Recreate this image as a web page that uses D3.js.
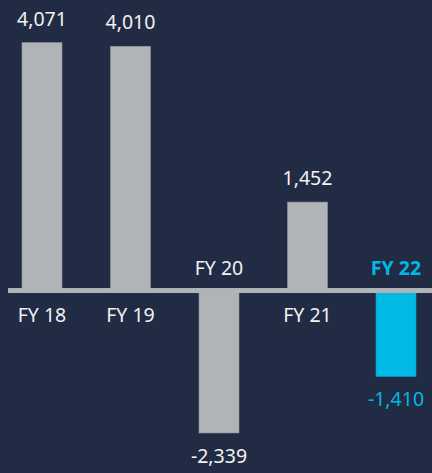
<!DOCTYPE html>
<html>
<head>
<meta charset="utf-8">
<script src="https://cdn.jsdelivr.net/npm/d3@7"></script>
<style>
  html, body { margin: 0; padding: 0; background: #222b44; }
  svg { display: block; }
  text { font-family: "Noto Sans", "Open Sans", sans-serif; }
</style>
</head>
<body>
<div id="chart"></div>
<script>
var categories = ["FY 18", "FY 19", "FY 20", "FY 21", "FY 22"];
var values = [4071, 4010, -2339, 1452, -1410];
var valueLabels = ["4,071", "4,010", "-2,339", "1,452", "-1,410"];
var highlight = "FY 22";

var width = 432;
var height = 473;
var barWidth = 40;

var grey = "#b1b4b7";
var cyan = "#00b9e4";
var white = "#f2f2f2";

var svg = d3.select("#chart")
	.append("svg")
	.attr("width", width)
	.attr("height", height);

svg.append("rect")
	.attr("width", width)
	.attr("height", height)
	.attr("fill", "#222b44");

var xScale = d3.scalePoint()
	.domain(categories)
	.range([42, 396]);

// zero sits in the middle of the 5px baseline
var yScale = d3.scaleLinear()
	.domain([-2400, 4200])
	.range([436.7, 34.7]);

var data = categories.map(function(c, i) {
	return { cat: c, value: values[i], label: valueLabels[i] };
});

function colorOf(d) { return d.cat === highlight ? cyan : grey; }

svg.selectAll(".bar")
	.data(data)
	.enter()
	.append("rect")
	.attr("class", "bar")
	.attr("x", function(d) { return xScale(d.cat) - barWidth / 2; })
	.attr("y", function(d) { return Math.min(yScale(d.value), yScale(0)); })
	.attr("width", barWidth)
	.attr("height", function(d) { return Math.abs(yScale(d.value) - yScale(0)); })
	.attr("fill", colorOf)
	.attr("stroke", function(d) { return d.cat === highlight ? "#0aa6cf" : "#8e949c"; })
	.attr("stroke-width", 0.6);

// baseline
svg.append("rect")
	.attr("x", 8)
	.attr("y", yScale(0) - 2.5)
	.attr("width", width - 8)
	.attr("height", 5)
	.attr("fill", grey);

// value labels
svg.selectAll(".value")
	.data(data)
	.enter()
	.append("text")
	.attr("class", "value")
	.attr("x", function(d) { return xScale(d.cat); })
	.attr("y", function(d) {
		return d.value >= 0 ? yScale(d.value) - 17 : yScale(d.value) + 30;
	})
	.attr("text-anchor", "middle")
	.attr("font-size", 19.5)
	.attr("fill", function(d) { return d.cat === highlight ? cyan : white; })
	.text(function(d) { return d.label; });

// category labels: below the line for positives, above for negatives
svg.selectAll(".cat")
	.data(data)
	.enter()
	.append("text")
	.attr("class", "cat")
	.attr("x", function(d) { return xScale(d.cat); })
	.attr("y", function(d) { return d.value >= 0 ? yScale(0) + 31.5 : yScale(0) - 15.5; })
	.attr("text-anchor", "middle")
	.attr("font-size", 19.5)
	.attr("font-weight", function(d) { return d.cat === highlight ? "bold" : "normal"; })
	.attr("fill", function(d) { return d.cat === highlight ? cyan : white; })
	.text(function(d) { return d.cat; });
</script>
</body>
</html>
